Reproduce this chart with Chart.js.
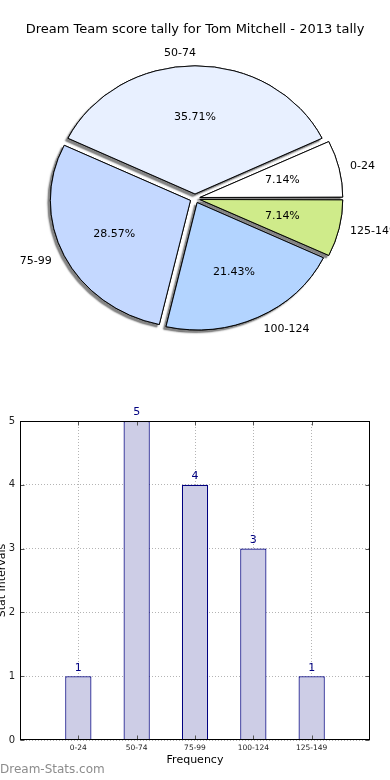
<!DOCTYPE html>
<html>
<head>
<meta charset="utf-8">
<script src="https://cdn.jsdelivr.net/npm/chart.js@4.4.0/dist/chart.umd.min.js"></script>
<style>
  body { margin: 0; background: #fff; }
  #pieBox { position: absolute; left: 0; top: 0; width: 390px; height: 380px; }
  #barBox { position: absolute; left: 0; top: 380px; width: 390px; height: 400px; }
</style>
</head>
<body>
<div id="pieBox"><canvas id="pieChart"></canvas></div>
<div id="barBox"><canvas id="barChart"></canvas></div>
<script>
const chartTitle = "Dream Team score tally for Tom Mitchell - 2013 tally";
const intervals = ["0-24", "50-74", "75-99", "100-124", "125-149"];
const counts = [1, 5, 4, 3, 1];
const sliceColors = ["#ffffff", "#e8f0ff", "#c4d8ff", "#b3d4ff", "#cfeb8a"];
const yTicks = [0, 1, 2, 3, 4, 5];

const FONT = "DejaVu Sans";
const ySquash = 0.908; // pie is drawn a bit flatter than a circle

// pie goes counter clockwise from 3 o'clock, chart.js goes clockwise -> reverse
const pieLabels = intervals.slice().reverse();
const pieValues = counts.slice().reverse();
const pieColors = sliceColors.slice().reverse();
const total = counts.reduce((a, b) => a + b, 0);

const pieShape = {
  id: "pieShape",
  beforeDatasetsDraw(chart) {
    const ctx = chart.ctx;
    const arcs = chart.getDatasetMeta(0).data;
    const cx = arcs[0].x, cy = arcs[0].y;
    ctx.save();
    ctx.translate(cx, cy);
    ctx.scale(1, ySquash);
    ctx.translate(-cx, -cy);
    // shadow pass under all the slices
    ctx.save();
    ctx.shadowColor = "rgba(50,50,50,0.6)";
    ctx.shadowOffsetX = -2.5;
    ctx.shadowOffsetY = 2.5;
    ctx.shadowBlur = 1.5;
    arcs.forEach(a => a.draw(ctx));
    ctx.restore();
  },
  afterDatasetsDraw(chart) {
    const ctx = chart.ctx;
    ctx.restore();
    const arcs = chart.getDatasetMeta(0).data;
    ctx.save();
    ctx.fillStyle = "#000";
    ctx.font = "11px " + FONT;
    ctx.textBaseline = "middle";
    arcs.forEach((a, i) => {
      const mid = (a.startAngle + a.endAngle) / 2;
      const off = (a.options.offset || 0) / 4;
      const r = a.outerRadius + 1;
      const px = d => a.x + d * Math.cos(mid);
      const py = d => a.y + d * Math.sin(mid) * ySquash;
      const pct = (pieValues[i] / total * 100).toFixed(2) + "%";
      ctx.textAlign = "center";
      ctx.fillText(pct, px(off + r * 0.6), py(off + r * 0.6));
      const right = Math.cos(mid) > 1e-6;
      ctx.textAlign = right ? "left" : "right";
      ctx.fillText(chart.data.labels[i], px(off + r * 1.1) + (right ? -1 : 1), py(off + r * 1.1));
    });
    ctx.restore();
  }
};

new Chart(document.getElementById("pieChart"), {
  type: "pie",
  data: {
    labels: pieLabels,
    datasets: [{
      data: pieValues,
      backgroundColor: pieColors,
      borderColor: "#000",
      borderWidth: 1,
      borderJoinStyle: "miter",
      offset: 20
    }]
  },
  options: {
    responsive: true,
    maintainAspectRatio: false,
    animation: false,
    rotation: 90,
    radius: 140,
    layout: { padding: { top: 0, bottom: 20.6, left: 0, right: 0 } },
    plugins: {
      legend: { display: false },
      tooltip: { enabled: false },
      title: {
        display: true,
        text: chartTitle,
        color: "#000",
        font: { family: FONT, size: 13, weight: "normal" },
        padding: { top: 22, bottom: 0 }
      }
    }
  },
  plugins: [pieShape]
});

const barExtras = {
  id: "barExtras",
  afterDatasetsDraw(chart) {
    const ctx = chart.ctx;
    const bars = chart.getDatasetMeta(0).data;
    ctx.save();
    ctx.fillStyle = "#000080";
    ctx.font = "11px " + FONT;
    ctx.textAlign = "center";
    ctx.textBaseline = "bottom";
    bars.forEach((b, i) => ctx.fillText(counts[i], b.x, b.y - 3));
    ctx.restore();
  },
  afterDraw(chart) {
    const ctx = chart.ctx;
    const a = chart.chartArea;
    const L = Math.round(a.left) + 0.5, R = Math.round(a.right) - 0.5;
    const T = Math.round(a.top) + 0.5, B = Math.round(a.bottom) - 0.5;
    ctx.save();
    // small inward ticks
    ctx.strokeStyle = "#555";
    ctx.lineWidth = 1;
    ctx.beginPath();
    yTicks.forEach(v => {
      const y = Math.round(chart.scales.y.getPixelForValue(v)) + 0.5;
      ctx.moveTo(L, y); ctx.lineTo(L + 4, y);
      ctx.moveTo(R, y); ctx.lineTo(R - 4, y);
    });
    intervals.forEach((c, i) => {
      const x = Math.round(chart.scales.x.getPixelForValue(i)) + 0.5;
      ctx.moveTo(x, B); ctx.lineTo(x, B - 4);
      ctx.moveTo(x, T); ctx.lineTo(x, T + 4);
    });
    ctx.stroke();
    ctx.strokeStyle = "#000";
    ctx.strokeRect(L, T, R - L, B - T);
    // watermark
    ctx.fillStyle = "#8c8c8c";
    ctx.font = "12px " + FONT;
    ctx.textAlign = "left";
    ctx.textBaseline = "middle";
    ctx.fillText("Dream-Stats.com", 0, chart.height - 10);
    ctx.restore();
  }
};

new Chart(document.getElementById("barChart"), {
  type: "bar",
  data: {
    datasets: [{
      data: counts.map((v, i) => ({ x: i, y: v })),
      backgroundColor: "#cdcde6",
      borderColor: "#000080",
      borderWidth: 1.2,
      barPercentage: 0.45,
      categoryPercentage: 1
    }]
  },
  options: {
    responsive: true,
    maintainAspectRatio: false,
    animation: false,
    layout: { padding: { top: 41, right: 20, left: 0, bottom: 0 } },
    plugins: { legend: { display: false }, tooltip: { enabled: false } },
    scales: {
      x: {
        type: "linear",
        min: -1,
        max: intervals.length,
        offset: false,
        z: 1,
        afterFit: s => { s.height = 40; },
        ticks: {
          stepSize: 1,
          padding: 4,
          autoSkip: false,
          maxRotation: 0,
          color: "#222",
          font: { family: FONT, size: 7.5 },
          callback: v => intervals[v] !== undefined ? intervals[v] : ""
        },
        grid: {
          offset: false,
          drawTicks: false,
          color: c => (c.tick && c.tick.value >= 0 && c.tick.value < intervals.length) ? "#b4b4b4" : "transparent"
        },
        border: { display: false, dash: [1, 2] },
        title: {
          display: true,
          text: "Frequency",
          color: "#000",
          font: { family: FONT, size: 11 },
          padding: { top: 0, bottom: 13 }
        }
      },
      y: {
        min: 0,
        max: 5,
        afterFit: s => { s.width = 20; },
        ticks: {
          stepSize: 1,
          padding: 5,
          color: "#222",
          font: { family: FONT, size: 10 }
        },
        grid: { drawTicks: false, color: "#b4b4b4" },
        border: { display: false, dash: [1, 2] },
        title: {
          display: true,
          text: "Stat Intervals",
          color: "#000",
          font: { family: FONT, size: 11 },
          padding: { top: -4, bottom: 0 }
        }
      }
    }
  },
  plugins: [barExtras]
});
</script>
</body>
</html>
